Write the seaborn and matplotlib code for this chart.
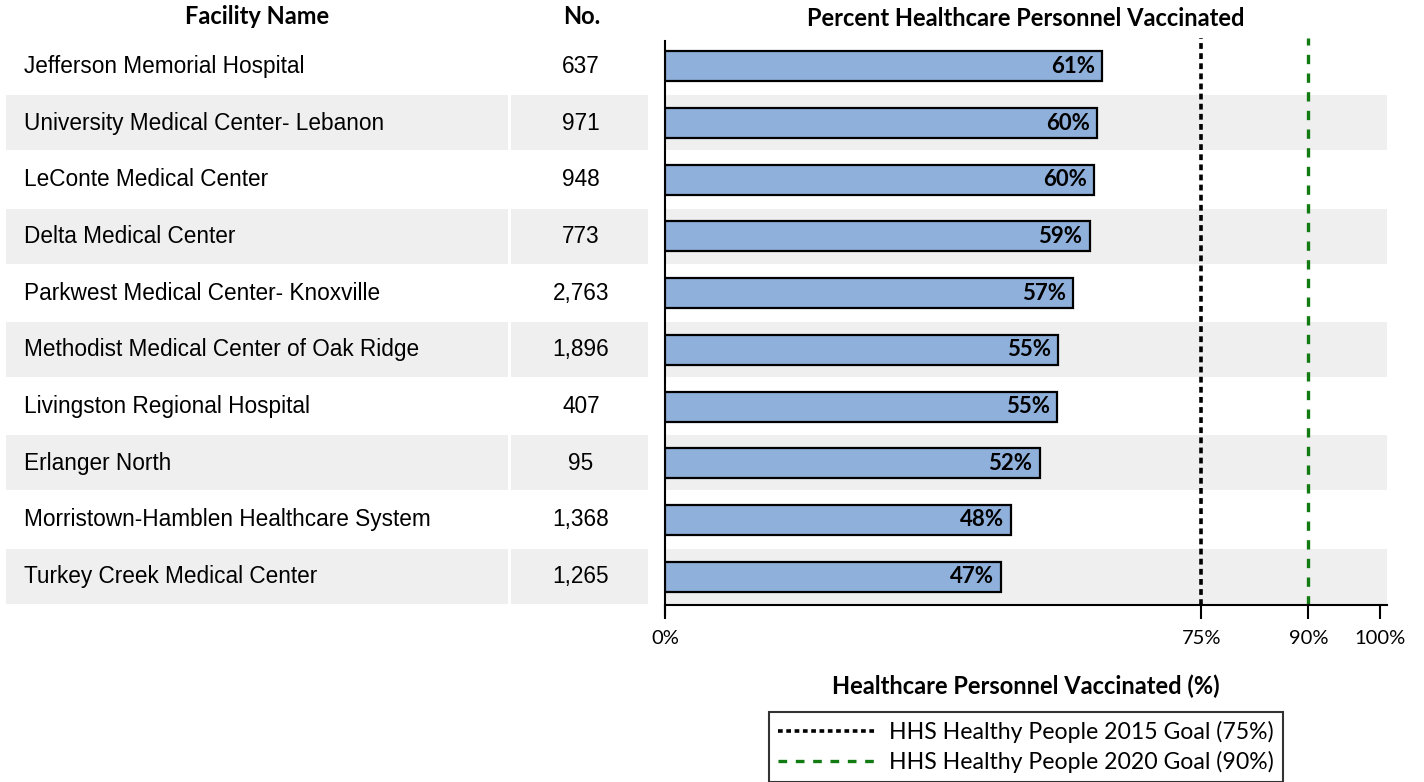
import matplotlib
matplotlib.use("Agg")
import matplotlib.pyplot as plt
from matplotlib.lines import Line2D
import seaborn as sns
import pandas as pd

# Data
facilities = [
    "Jefferson Memorial Hospital",
    "University Medical Center- Lebanon",
    "LeConte Medical Center",
    "Delta Medical Center",
    "Parkwest Medical Center- Knoxville",
    "Methodist Medical Center of Oak Ridge",
    "Livingston Regional Hospital",
    "Erlanger North",
    "Morristown-Hamblen Healthcare System",
    "Turkey Creek Medical Center",
]
counts = [637, 971, 948, 773, 2763, 1896, 407, 95, 1368, 1265]
pct_vaccinated = [61.2, 60.4, 60.0, 59.4, 57.1, 55.0, 54.8, 52.4, 48.4, 47.0]
goal_2015 = 75
goal_2020 = 90
x_ticks = [0, 75, 90, 100]

df = pd.DataFrame({"facility": facilities, "count": counts, "pct": pct_vaccinated})

sns.set_theme(style="white")
plt.rcParams["font.family"] = ["Lato", "DejaVu Sans"]
plt.rcParams["text.color"] = "black"
plt.rcParams["axes.labelcolor"] = "black"
plt.rcParams["xtick.color"] = "black"

W, H = 1424, 782
fig = plt.figure(figsize=(W / 100, H / 100), dpi=100)

left, right, top, bottom = 665, 1387, 38, 605
ax = fig.add_axes([left / W, 1 - bottom / H, (right - left) / W, (bottom - top) / H])
ax_t = fig.add_axes([0, 1 - bottom / H, left / W, (bottom - top) / H])

band = "#efefef"
green = "#117a11"
n = len(df)

# Bars
sns.barplot(data=df, x="pct", y="facility", orient="h", color="#8fb0da",
            edgecolor="black", linewidth=1.6, width=0.53, saturation=1, ax=ax, zorder=3)
for i in range(n):
    if i % 2 == 1:
        ax.axhspan(i - 0.49, i + 0.48, color=band, zorder=0, lw=0)
for i, v in enumerate(df["pct"]):
    ax.text(v - 1.0, i, f"{round(v)}%", ha="right", va="center",
            fontsize=16, fontweight="bold", zorder=4)

ax.axvline(goal_2015, color="black", ls=(0, (1.6, 1.2)), lw=2.6, zorder=2)
ax.axvline(goal_2020, color=green, ls=(0, (2.8, 2.8)), lw=2.4, zorder=2)

ax.set_xlim(0, 101)
ax.set_ylim(n - 0.5, -0.5)
ax.set_xticks(x_ticks)
ax.set_xticklabels([f"{t}%" for t in x_ticks], fontsize=14.5)
ax.tick_params(axis="x", direction="out", length=10, width=1.5, color="black", pad=8, bottom=True)
ax.set_yticks([])
ax.set_ylabel("")
ax.set_xlabel("Healthcare Personnel Vaccinated (%)", fontsize=17, fontweight="bold", labelpad=20)
ax.set_title("Percent Healthcare Personnel Vaccinated", fontsize=17, fontweight="bold", pad=9)
for s in ["top", "right"]:
    ax.spines[s].set_visible(False)
for s in ["left", "bottom"]:
    ax.spines[s].set_color("black")
    ax.spines[s].set_linewidth(1.5)
ax.spines["left"].set_bounds(n - 0.5 + 0.18, -0.5 + 0.05)

handles = [
    Line2D([], [], color="black", ls=(0, (1.3, 1.0)), lw=2.6),
    Line2D([], [], color=green, ls=(0, (2.6, 2.6)), lw=2.4),
]
leg = ax.legend(handles, ["HHS Healthy People 2015 Goal (75%)", "HHS Healthy People 2020 Goal (90%)"],
                loc="upper center", bbox_to_anchor=(0.5, -0.188), frameon=True, fancybox=False,
                fontsize=16.6, handlelength=4.3, borderpad=0.4, labelspacing=0.35, handletextpad=0.5,
                borderaxespad=0)
leg.get_frame().set_edgecolor("black")
leg.get_frame().set_linewidth(1.5)

# Table on the left
ax_t.set_xlim(0, left)
ax_t.set_ylim(n - 0.5, -0.5)
ax_t.axis("off")
for i in range(n):
    if i % 2 == 1:
        ax_t.axhspan(i - 0.49, i + 0.48, xmin=6 / left, xmax=508 / left, color=band, lw=0)
        ax_t.axhspan(i - 0.49, i + 0.48, xmin=511 / left, xmax=648 / left, color=band, lw=0)
for i, row in df.iterrows():
    ax_t.text(24, i, row["facility"], ha="left", va="center", fontsize=16.3,
              family=["Liberation Sans", "DejaVu Sans"])
    ax_t.text(581, i, f"{row['count']:,}", ha="center", va="center", fontsize=16.3,
              family=["Liberation Sans", "DejaVu Sans"])

fig.text(257 / W, 1 - 17 / H, "Facility Name", ha="center", va="center", fontsize=17, fontweight="bold")
fig.text(582 / W, 1 - 17 / H, "No.", ha="center", va="center", fontsize=17, fontweight="bold")

fig.savefig("out.png", dpi=100)
